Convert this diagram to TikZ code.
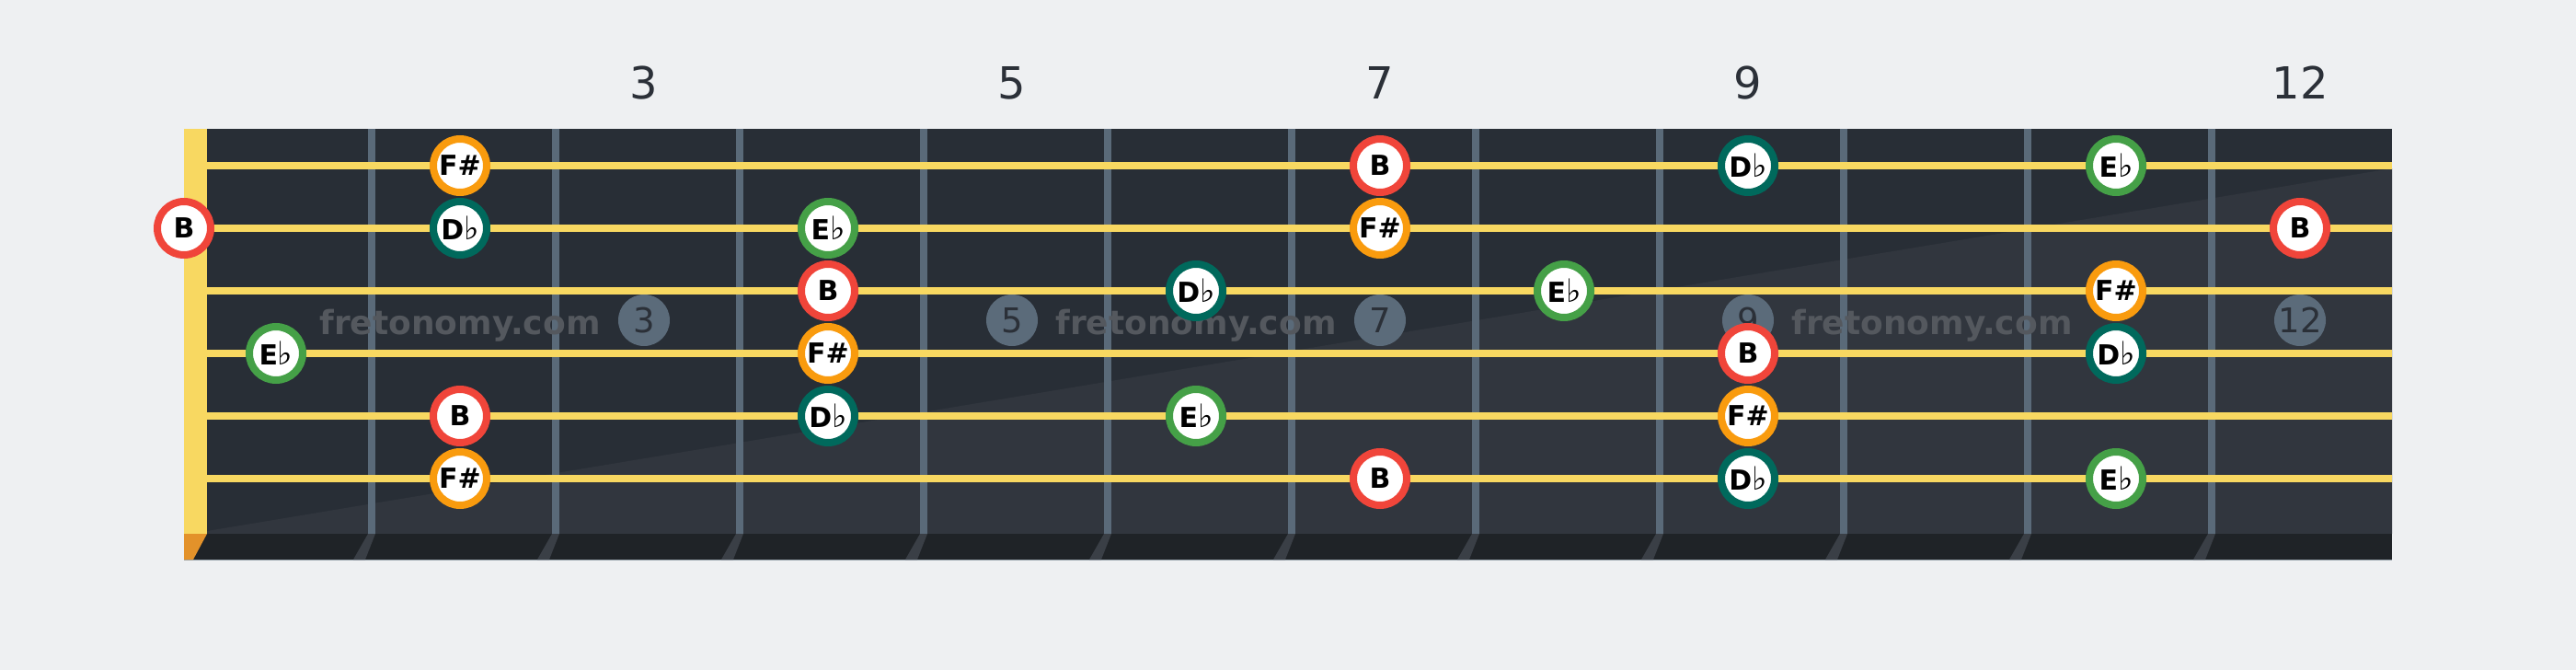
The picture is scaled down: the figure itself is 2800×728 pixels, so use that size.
\documentclass[tikz,border=0pt]{standalone}
\usepackage{fontspec}
\setmainfont{DejaVu Sans}
\usepackage{tikz}

\definecolor{bgcol}{HTML}{EEF0F2}
\definecolor{boardcol}{HTML}{282E36}
\definecolor{boardlight}{HTML}{31363E}
\definecolor{edgecol}{HTML}{1F2327}
\definecolor{stringcol}{HTML}{F8D861}
\definecolor{fretcol}{HTML}{5A6A79}
\definecolor{fretend}{HTML}{3A3F46}
\definecolor{nutend}{HTML}{E3922A}
\definecolor{inkcol}{HTML}{2B3038}
\definecolor{markcol}{HTML}{5B6B7A}
\definecolor{wmcol}{HTML}{54585E}
\definecolor{ncolB}{HTML}{F0453A}
\definecolor{ncolF}{HTML}{F99B0E}
\definecolor{ncolD}{HTML}{00695C}
\definecolor{ncolE}{HTML}{45A047}

\newcommand{\flt}{{\mdseries\fontsize{35}{35}\selectfont ♭}}

\begin{document}
\begin{tikzpicture}[x=1pt,y=-1pt,
    note/.style={circle,draw=#1,line width=8pt,fill=white,minimum size=58pt,
        inner sep=0pt,font=\fontsize{30}{30}\selectfont\bfseries,text=black},
    dot/.style={circle,fill=markcol,minimum size=56pt,inner sep=0pt,
        font=\fontsize{37}{37}\selectfont,text=inkcol},
    fretnum/.style={anchor=base,font=\fontsize{48}{48}\selectfont,text=inkcol},
    stamp/.style={anchor=base,font=\fontsize{36}{36}\selectfont\bfseries,text=wmcol}]
    \fill[bgcol] (0,0) rectangle (2800,728);
    \useasboundingbox (0,0) rectangle (2800,728);

    % board
    \fill[boardcol] (200,140) rectangle (2600,580);
    \fill[boardlight] (225,577) -- (2600,183) -- (2600,580) -- (225,580) -- cycle;
    \fill[edgecol] (200,580) rectangle (2600,608);
    \draw[fretcol!60!bgcol,line width=1.5pt] (200,608.5) -- (2600,608.5);

    % nut
    \fill[stringcol] (200,140) rectangle (225,580);
    \fill[nutend] (200,580) -- (225,580) -- (210,608) -- (200,608) -- cycle;

    % frets
    \foreach \f in {1,...,11} {
        \fill[fretcol] (200+200*\f,140) rectangle (208+200*\f,580);
        \fill[fretend] (200+200*\f,580) -- (208+200*\f,580) -- (197+200*\f,608) -- (184+200*\f,608) -- cycle;
    }

    % fret markers and numbers
    \foreach \f in {3,5,7,9,12} {
        \node[dot] (dot\f) at (200*\f+100,348) {\f};
        \node[fretnum] (num\f) at (200*\f+100,107) {\f};
    }

    % watermark
    \foreach \x [count=\i] in {500,1300,2100}
        \node[stamp] (stamp\i) at (\x,363) {fretonomy.com};

    % strings
    \foreach \s in {1,...,6}
        \fill[stringcol] (225,176+68*\s-68) rectangle (2600,184+68*\s-68);

    % notes: string/fret/colour/name
    \foreach \s/\f/\c/\n in {
        1/2/F/F\#, 1/7/B/B, 1/9/D/D\flt, 1/11/E/E\flt,
        2/0/B/B, 2/2/D/D\flt, 2/4/E/E\flt, 2/7/F/F\#, 2/12/B/B,
        3/4/B/B, 3/6/D/D\flt, 3/8/E/E\flt, 3/11/F/F\#,
        4/1/E/E\flt, 4/4/F/F\#, 4/9/B/B, 4/11/D/D\flt,
        5/2/B/B, 5/4/D/D\flt, 5/6/E/E\flt, 5/9/F/F\#,
        6/2/F/F\#, 6/7/B/B, 6/9/D/D\flt, 6/11/E/E\flt} {
        \ifnum\f=0
            \node[note=ncol\c] (s\s f\f) at (200,180+68*\s-68) {\n};
        \else
            \node[note=ncol\c] (s\s f\f) at (200*\f+100,180+68*\s-68) {\n};
        \fi
    }
\end{tikzpicture}
\end{document}
